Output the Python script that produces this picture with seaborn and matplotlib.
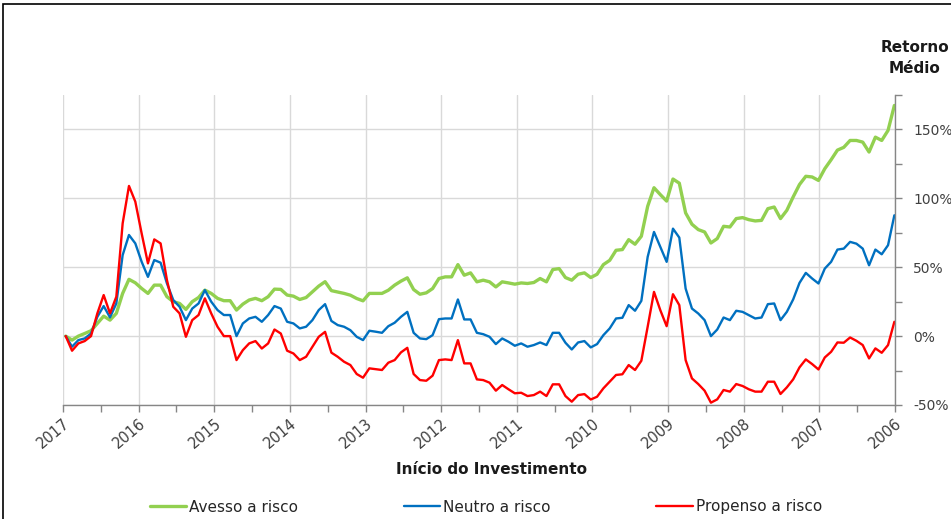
import numpy as np
import pandas as pd
import matplotlib
matplotlib.use("Agg")
import matplotlib.pyplot as plt
import seaborn as sns
from matplotlib.ticker import FixedLocator, FixedFormatter
from matplotlib.patches import Rectangle

# ---------------- data (monthly, from 2017 back to 2006) ----------------
anos = ["2017", "2016", "2015", "2014", "2013", "2012", "2011",
        "2010", "2009", "2008", "2007", "2006"]
series = ["Avesso a risco", "Neutro a risco", "Propenso a risco"]

avesso = [0, -2.9, 0, 1.9, 3.9, 9.2, 14.5, 11.6, 16.5, 31, 41.2, 38.7, 34.6, 31, 37, 37,
          28.6, 25, 23.7, 19.4, 25, 28, 33.4, 31, 27.4, 25.7, 25.7, 18.9, 23.2, 26.2, 27.4,
          25.7, 28.6, 34.1, 33.9, 29.8, 29, 26.6, 28, 32.2, 36.3, 39.5,
          33, 32, 31, 29.7, 27.3, 25.6, 31, 31, 31, 33.3, 37, 39.9, 42.3, 33.8, 30.4, 31.4,
          34.5, 41.8, 43, 43, 51.9, 44.2, 45.9, 39.4, 40.6, 39.4, 35.7, 39.4, 38.6, 37.7,
          38.6, 38.2, 38.9, 41.8, 39.4, 48.3, 49, 42.5, 40.6, 44.9, 45.9, 42.5, 44.9, 51.9,
          55, 62.3, 62.8, 70,
          66.7, 72.5, 94.2, 107.7, 102.7, 98, 114, 111, 89.4, 81.2, 77.3, 75.6, 67.6, 70.8,
          79.7, 79.2, 85.3, 86, 84.5, 83.6, 84, 92.5, 93.7, 85.3, 91.3, 101, 110, 116, 115.5,
          113, 121.5, 128, 135, 137, 142, 142, 140.8, 133.6, 144.4, 142, 149.3, 167.4]

neutro = [0, -7.7, -2.9, -1.7, 1.9, 14, 21.8, 13.6, 23.7, 58.8, 73.4, 67.3, 54, 43, 55.2,
          53.3, 38.3, 26.2, 21.3, 11.6, 20, 23.7, 33.4, 25, 18.9, 15.3, 15.3, 0, 9.2, 12.8,
          14, 10.4, 15.3, 21.8, 20, 10.4, 9.2, 5.6, 6.8, 11.6, 18.9, 23.2,
          11, 8, 6.8, 4.3, -0.5, -2.9, 3.9, 3.2, 2.4, 7.2, 9.7, 14, 17.6, 2.4, -1.7, -2.2,
          0.7, 12.3, 12.8, 12.8, 26.6, 12.1, 12.1, 2.4, 1.4, -0.5, -5.8, -1.7, -4.1, -7,
          -5.3, -7.7, -6.5, -4.6, -6.5, 2.4, 2.4, -4.8, -9.7, -4.6, -3.6, -8.2, -5.8, 0.7,
          5.6, 12.8, 13.3, 22.5,
          18.4, 25.6, 57.5, 75.6, 64.7, 53.9, 78, 71.5, 34.5, 20, 16.4, 11.6, 0, 4.8, 13.5,
          11.6, 18.4, 17.6, 15.2, 12.8, 13.5, 23.2, 23.7, 11.6, 17.6, 26.6, 38.6, 45.9, 41.8,
          38.2, 49, 53.9, 62.8, 63.5, 68.4, 67.1, 63.5, 51.4, 62.8, 59.4, 66, 87.7]

propenso = [0, -10.6, -5.3, -3.6, 0, 16.5, 29.8, 16.5, 28.6, 81.8, 109, 97.6, 74.6, 52.8,
            70.2, 67.3, 40.7, 21.3, 16.5, -0.5, 11.6, 15.3, 27.4, 16.5, 6.8, 0, 0, -17.4,
            -10.2, -5.3, -3.6, -9, -5.3, 4.8, 1.9, -10.6, -12.6, -17.4, -15, -7.7, -0.5, 3.1,
            -12, -15, -18.6, -21, -27.5, -30.2, -23.4, -24, -24.6, -19.3, -17.4, -11.8, -8.5,
            -27.5, -31.9, -32.4, -28.7, -17.4, -16.9, -17.4, -2.9, -19.8, -19.8, -31.4, -31.9,
            -33.8, -39.6, -35.5, -38.6, -41.5, -41.1, -43.5, -42.8, -40.3, -43.5, -35, -35,
            -43.5, -47.6, -42.8, -42.1, -46, -44, -37.9, -33, -28.2, -27.7, -21,
            -24.6, -17.9, 6.8, 32.1, 18.8, 7.2, 30.4, 22.5, -17.4, -30.7, -34.8, -39.6, -48.3,
            -45.9, -39.1, -40.3, -34.8, -36.2, -38.6, -40.3, -40.3, -33.1, -33.1, -42, -37.2,
            -31.4, -22.7, -16.9, -20.3, -24.2, -15.5, -11.4, -4.6, -4.8, -1, -3.4, -6.5,
            -16.2, -8.9, -12.1, -6.5, 10.4]

y_major = [-50, 0, 50, 100, 150]
y_minor = [-25, 25, 75, 125, 175]

# ---------------- styling ----------------
sns.set_theme(style="white")
plt.rcParams["font.family"] = ["DejaVu Sans"]

colors = {"Avesso a risco": "#92D050", "Neutro a risco": "#0070C0",
          "Propenso a risco": "#FF0000"}
widths = {"Avesso a risco": 2.4, "Neutro a risco": 1.7, "Propenso a risco": 1.7}

W, H = 951, 519
fig = plt.figure(figsize=(W / 100, H / 100), dpi=100)
ax = fig.add_axes([63 / W, 1 - 405 / H, (895 - 63) / W, (405 - 95) / H])

mes = np.arange(len(avesso))
df = pd.concat([
    pd.DataFrame({"mes": mes, "retorno": vals, "perfil": name})
    for name, vals in zip(series, [avesso, neutro, propenso])
])

for name in series:
    sns.lineplot(data=df[df["perfil"] == name], x="mes", y="retorno",
                 color=colors[name], linewidth=widths[name], ax=ax,
                 label=name, legend=False)

n = len(avesso)
x0, x1 = -0.43, n - 1 + 0.1
ax.set_xlim(x0, x1)
ax.set_ylim(-50, 175)

year_pos = np.linspace(x0, x1, len(anos))
half_pos = (year_pos[:-1] + year_pos[1:]) / 2
ax.xaxis.set_major_locator(FixedLocator(year_pos))
ax.xaxis.set_major_formatter(FixedFormatter(anos))
ax.xaxis.set_minor_locator(FixedLocator(half_pos))

ax.yaxis.tick_right()
ax.yaxis.set_major_locator(FixedLocator(y_major))
ax.yaxis.set_major_formatter(FixedFormatter([f"{v}%" for v in y_major]))
ax.yaxis.set_minor_locator(FixedLocator(y_minor))

axis_col = "#868686"
ax.tick_params(axis="x", which="both", direction="out", length=5, width=1,
               color=axis_col, bottom=True, labelsize=10.5, labelcolor="#404040", pad=3)
ax.tick_params(axis="y", which="both", direction="out", length=5, width=1,
               color=axis_col, right=True, left=False, labelright=True, labelleft=False,
               labelsize=10, labelcolor="#404040", pad=8)
for lab in ax.get_xticklabels():
    lab.set_rotation(40)
    lab.set_ha("right")
    lab.set_rotation_mode("anchor")

ax.grid(False)
ax.grid(True, axis="y", which="major", color="#D9D9D9", linewidth=1)
ax.grid(True, axis="x", which="major", color="#D9D9D9", linewidth=1)
ax.set_axisbelow(True)

for s in ["top", "left"]:
    ax.spines[s].set_visible(False)
for s in ["right", "bottom"]:
    ax.spines[s].set_visible(True)
    ax.spines[s].set_color(axis_col)
    ax.spines[s].set_linewidth(1)

ax.set_xlabel("")
ax.set_ylabel("")

fig.text(492 / W, 1 - 470 / H, "Início do Investimento", ha="center", va="center",
         fontsize=11, fontweight="bold", color="#1a1a1a")
fig.text(915 / W, 1 - 58 / H, "Retorno\nMédio", ha="center", va="center",
         fontsize=11, fontweight="bold", color="#1a1a1a", linespacing=1.5)

handles = ax.get_lines()[:3]
fig.legend(handles, series, loc="center", bbox_to_anchor=(486 / W, 1 - 507 / H),
           ncol=3, frameon=False, fontsize=11, handlelength=2.4,
           handletextpad=0.2, columnspacing=6.9, labelcolor="#262626")

fig.patches.append(Rectangle((3 / W, -0.05), 1.2, 1.05 - 4 / H, transform=fig.transFigure,
                             fill=False, edgecolor="black", linewidth=1.2))

fig.savefig("out.png", dpi=100)
